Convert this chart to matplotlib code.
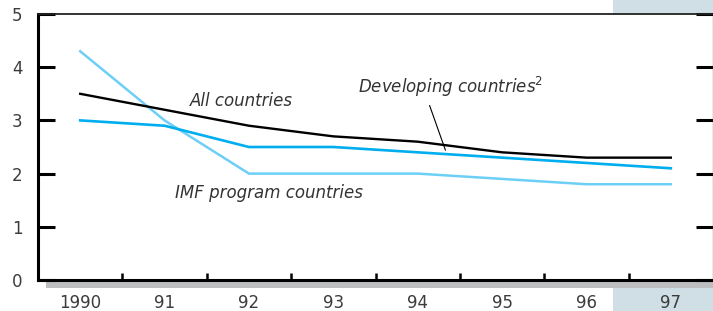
import matplotlib
matplotlib.use("Agg")
import matplotlib.pyplot as plt
from matplotlib.patches import Rectangle

years = ["1990", "91", "92", "93", "94", "95", "96", "97"]
all_countries = [3.5, 3.2, 2.9, 2.7, 2.6, 2.4, 2.3, 2.3]
developing = [3.0, 2.9, 2.5, 2.5, 2.4, 2.3, 2.2, 2.1]
imf_program = [4.3, 3.0, 2.0, 2.0, 2.0, 1.9, 1.8, 1.8]
y_ticks = [0, 1, 2, 3, 4, 5]

plt.rcParams['font.family'] = ['DejaVu Sans']

W, H = 713, 311
fig = plt.figure(figsize=(W / 100, H / 100), dpi=100)
fig.patch.set_facecolor("white")

# projection shading for 1997 (behind axes)
fig.add_artist(Rectangle((613 / W, 0), (W - 613) / W, 1, transform=fig.transFigure,
                         facecolor="#cfdfe5", edgecolor="none", zorder=0))
# gray band under x axis
fig.add_artist(Rectangle((46 / W, (H - 288) / H), (W - 46) / W, 6 / H, transform=fig.transFigure,
                         facecolor="#bcbec0", edgecolor="none", zorder=1))

ax = fig.add_axes([38 / W, (H - 280) / H, (W - 38) / W, (280 - 14) / H])
ax.set_facecolor("white")
ax.set_zorder(2)

x = list(range(len(years)))
ax.plot(x, imf_program, color="#6dcff6", lw=1.8, solid_joinstyle="miter")
ax.plot(x, developing, color="#00aeef", lw=1.9, solid_joinstyle="miter")
ax.plot(x, all_countries, color="#000000", lw=1.7, solid_joinstyle="miter")

ax.set_xlim(-0.5, len(years) - 0.5)
ax.set_ylim(0, 5)

tick_color = "#3c3c3c"
ax.set_xticks(x)
ax.set_xticklabels(years, fontsize=12, color=tick_color)
ax.tick_params(axis="x", which="major", length=0, pad=10)
ax.set_xticks([i + 0.5 for i in range(len(years) - 1)], minor=True)
ax.tick_params(axis="x", which="minor", direction="in", length=5, width=1.8, color="black")

ax.set_yticks(y_ticks)
ax.set_yticklabels([str(v) for v in y_ticks], fontsize=12, color=tick_color)
ax.tick_params(axis="y", which="major", direction="in", length=12, width=2.2,
               color="black", pad=11, right=True)

for s in ["left", "bottom"]:
    ax.spines[s].set_linewidth(2.2)
    ax.spines[s].set_color("black")
ax.spines["top"].set_linewidth(1.3)
ax.spines["top"].set_color("#222222")
ax.spines["right"].set_linewidth(0.9)
ax.spines["right"].set_color("#555555")

lab_color = "#333333"
ax.text(1.30, 3.36, "All countries", style="italic", fontsize=12, color=lab_color,
        ha="left", va="center")
ax.text(3.29, 3.63, "Developing countries$^2$", style="italic", fontsize=12, color=lab_color,
        ha="left", va="center")
ax.text(1.12, 1.64, "IMF program countries", style="italic", fontsize=12, color=lab_color,
        ha="left", va="center")
ax.annotate("", xy=(4.34, 2.39), xytext=(4.13, 3.33),
            arrowprops=dict(arrowstyle="-", color="black", lw=0.8))

fig.savefig("out.png", dpi=100)
